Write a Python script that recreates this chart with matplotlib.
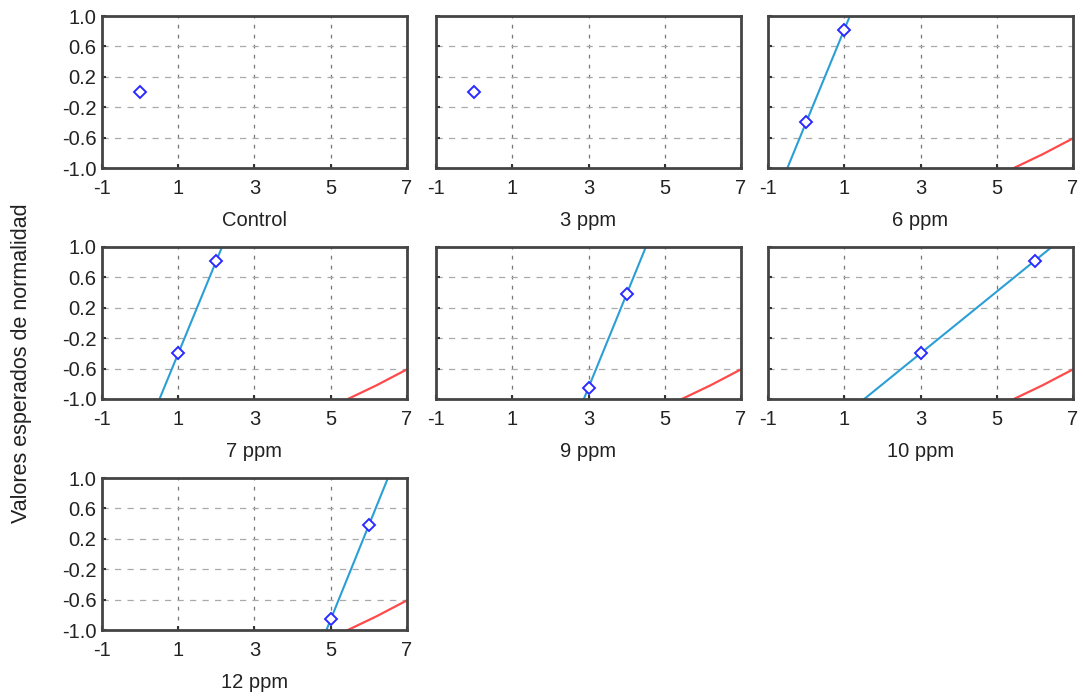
import numpy as np
import matplotlib
matplotlib.use('Agg')
import matplotlib.pyplot as plt

plt.rcParams['font.family'] = ['Liberation Sans', 'DejaVu Sans']
plt.rcParams['axes.unicode_minus'] = False

# grupos y valores observados (x) con su valor esperado normal (y)
panels = ['Control', '3 ppm', '6 ppm', '7 ppm', '9 ppm', '10 ppm', '12 ppm']
obs_x = [[0], [0], [0, 1], [1, 2], [3, 4], [3, 6], [5, 6]]
obs_y = [[0.0], [0.0], [-0.4, 0.82], [-0.4, 0.82], [-0.85, 0.38], [-0.4, 0.82], [-0.86, 0.38]]

# curva roja que aparece abajo a la derecha
red_x = [5.45, 6.2, 7.0]
red_y = [-1.0, -0.82, -0.61]

x_ticks = [-1, 1, 3, 5, 7]
y_ticks = [1.0, 0.6, 0.2, -0.2, -0.6, -1.0]

W, H = 1083, 698
fig = plt.figure(figsize=(W / 100, H / 100), dpi=100)

lefts = [102, 436, 768]
tops = [16, 247, 478]
aw, ah = 305, 152

for i, name in enumerate(panels):
    r, c = divmod(i, 3)
    ax = fig.add_axes([lefts[c] / W, 1 - (tops[r] + ah) / H, aw / W, ah / H])
    ax.set_xlim(-1, 7)
    ax.set_ylim(-1, 1)
    ax.set_xticks(x_ticks)
    ax.set_yticks(y_ticks)
    ax.set_yticklabels([f'{v:.1f}' for v in y_ticks] if c == 0 else [])
    ax.tick_params(direction='in', length=3, width=1.5, labelsize=14.5,
                   colors='#333333', labelcolor='#222222')
    ax.tick_params(axis='x', pad=8)
    ax.tick_params(axis='y', pad=4)
    for s in ax.spines.values():
        s.set_linewidth(2)
        s.set_color('#444444')
    for v in [1, 3, 5]:
        ax.axvline(v, color='#777777', lw=0.9, ls=(0, (3, 5)), zorder=0)
    for v in [0.6, 0.2, -0.2, -0.6]:
        ax.axhline(v, color='#aaaaaa', lw=0.9, ls=(0, (5, 5)), zorder=0)

    xs = np.array(obs_x[i], dtype=float)
    ys = np.array(obs_y[i], dtype=float)
    if len(xs) > 1:
        m, b = np.polyfit(xs, ys, 1)
        xl = np.array([-1, 7])
        ax.plot(xl, m * xl + b, color='#2a9fd6', lw=1.5, zorder=2)
        ax.plot(red_x, red_y, color='#ff4a4a', lw=1.6, zorder=2, clip_on=True)
    ax.plot(xs, ys, 'D', ms=6.5, mfc='white', mec='#2b2bff', mew=1.4, zorder=3)
    ax.set_xlabel(name, fontsize=14.5, color='#222222', labelpad=9)

fig.text(22 / W, 1 - 363 / H, 'Valores esperados de normalidad', rotation=90,
         ha='center', va='center', fontsize=15.5, color='#222222')

fig.savefig('out.png', dpi=100)
